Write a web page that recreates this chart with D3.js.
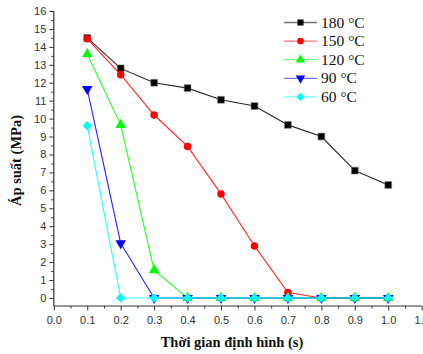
<!DOCTYPE html>
<html>
<head>
<meta charset="utf-8">
<script src="https://cdn.jsdelivr.net/npm/d3@7"></script>
<style>
  html, body { margin: 0; padding: 0; background: #fff; }
  svg { display: block; }
</style>
</head>
<body>
<svg id="chart" width="423" height="354"></svg>
<script>
// Forming time (s)
const times = [0.1, 0.2, 0.3, 0.4, 0.5, 0.6, 0.7, 0.8, 0.9, 1.0];

// Pressure (MPa) for each mould temperature
const p180 = [14.5, 12.8, 12.0, 11.7, 11.05, 10.7, 9.65, 9.0, 7.1, 6.3];
const p150 = [14.45, 12.45, 10.2, 8.45, 5.8, 2.9, 0.3, 0, 0, 0];
const p120 = [13.6, 9.65, 1.55, 0, 0, 0, 0, 0, 0, 0];
const p90  = [11.65, 3.05, 0, 0, 0, 0, 0, 0, 0, 0];
const p60  = [9.6, 0, 0, 0, 0, 0, 0, 0, 0, 0];

const seriesNames  = ["180 °C", "150 °C", "120 °C", "90 °C", "60 °C"];
const seriesValues = [p180, p150, p120, p90, p60];
const seriesColors = ["#000000", "#ff0000", "#00ff00", "#0000ff", "#00ffff"];
const seriesSymbols = ["square", "circle", "triUp", "triDown", "diamond"];
const symbolSizes = [46, 44, 48, 48, 44];

const xTicks = [0.0, 0.1, 0.2, 0.3, 0.4, 0.5, 0.6, 0.7, 0.8, 0.9, 1.0, 1.1];
const yTicks = d3.range(0, 17, 1);

const svg = d3.select("#chart");

const x = d3.scaleLinear().domain([0, 1.1]).range([53.8, 421.7]);
const y = d3.scaleLinear().domain([-0.45, 16]).range([306, 11]);

const axisColor = "#333";
const sans = "'Liberation Sans', Arial, sans-serif";
const serif = "'Liberation Serif', 'Times New Roman', serif";

// Left axis with minor ticks
const yMinor = d3.range(0, 16.01, 0.5).filter(v => v % 1 !== 0);
svg.append("g")
  .attr("transform", `translate(${x(0)},0)`)
  .call(d3.axisLeft(y).tickValues(yMinor).tickSize(2.5).tickFormat(""))
  .call(g => g.select(".domain").remove())
  .call(g => g.selectAll("line").attr("stroke", axisColor));

svg.append("g")
  .attr("transform", `translate(${x(0)},0)`)
  .call(d3.axisLeft(y).tickValues(yTicks).tickSize(4.5).tickPadding(3).tickFormat(d3.format("d")))
  .call(g => g.select(".domain").remove())
  .call(g => g.selectAll("line").attr("stroke", axisColor))
  .call(g => g.selectAll("text").attr("fill", axisColor).attr("font-family", sans).attr("font-size", "11px"));

// Bottom axis with minor ticks
const xMinor = d3.range(0.05, 1.1, 0.1);
svg.append("g")
  .attr("transform", `translate(0,${y(-0.45)})`)
  .call(d3.axisBottom(x).tickValues(xMinor).tickSize(2.5).tickFormat(""))
  .call(g => g.select(".domain").remove())
  .call(g => g.selectAll("line").attr("stroke", axisColor));

svg.append("g")
  .attr("transform", `translate(0,${y(-0.45)})`)
  .call(d3.axisBottom(x).tickValues(xTicks).tickSize(4.5).tickPadding(6).tickFormat(d3.format(".1f")))
  .call(g => g.select(".domain").remove())
  .call(g => g.selectAll("line").attr("stroke", axisColor))
  .call(g => g.selectAll("text").attr("fill", axisColor).attr("font-family", sans).attr("font-size", "11px"));

// Axis lines
svg.append("line")
  .attr("x1", x(0)).attr("x2", x(0)).attr("y1", y(16)).attr("y2", y(-0.45))
  .attr("stroke", axisColor).attr("stroke-width", 1.2);
svg.append("line")
  .attr("x1", x(0)).attr("x2", x(1.1)).attr("y1", y(-0.45)).attr("y2", y(-0.45))
  .attr("stroke", axisColor).attr("stroke-width", 1.2);

// Axis titles
svg.append("text")
  .attr("transform", `translate(21,${(y(16) + y(-0.45)) / 2 + 2}) rotate(-90)`)
  .attr("text-anchor", "middle")
  .attr("font-family", serif).attr("font-weight", "bold").attr("font-size", "14.5px")
  .attr("fill", "#111")
  .text("Áp suất (MPa)");

svg.append("text")
  .attr("x", 232).attr("y", 347)
  .attr("text-anchor", "middle")
  .attr("font-family", serif).attr("font-weight", "bold").attr("font-size", "14.5px")
  .attr("fill", "#111")
  .text("Thời gian định hình (s)");

// Marker shapes: square, circle, up/down triangles and a square diamond
function symbolPath(kind, size) {
  if (kind === "square" || kind === "diamond") return d3.symbol().type(d3.symbolSquare).size(size)();
  if (kind === "circle") return d3.symbol().type(d3.symbolCircle).size(size)();
  return d3.symbol().type(d3.symbolTriangle).size(size)();
}
function symbolTransform(kind, px, py) {
  if (kind === "triDown") return `translate(${px},${py}) rotate(180)`;
  if (kind === "diamond") return `translate(${px},${py}) rotate(45)`;
  return `translate(${px},${py})`;
}

// Lines and markers, drawn in series order
const line = d3.line().x(d => x(d[0])).y(d => y(d[1]));
seriesValues.forEach((vals, i) => {
  const pts = times.map((t, j) => [t, vals[j]]);
  const g = svg.append("g");
  g.append("path")
    .attr("d", line(pts))
    .attr("fill", "none")
    .attr("stroke", seriesColors[i])
    .attr("stroke-width", 1.1)
    .attr("stroke-opacity", 0.85);
  g.selectAll("path.m")
    .data(pts)
    .join("path")
    .attr("class", "m")
    .attr("d", symbolPath(seriesSymbols[i], symbolSizes[i]))
    .attr("transform", d => symbolTransform(seriesSymbols[i], x(d[0]), y(d[1])))
    .attr("fill", seriesColors[i])
    .attr("stroke", i === 0 ? "#777" : "none")
    .attr("stroke-width", 0.6);
});

// Legend
const legend = svg.append("g");
const legendY0 = 22.5, legendDy = 18.6;
seriesNames.forEach((name, i) => {
  const ly = legendY0 + i * legendDy;
  legend.append("line")
    .attr("x1", 284).attr("x2", 317).attr("y1", ly).attr("y2", ly)
    .attr("stroke", seriesColors[i]).attr("stroke-width", 1.3).attr("stroke-opacity", 0.55);
  legend.append("path")
    .attr("d", symbolPath(seriesSymbols[i], symbolSizes[i] * 0.8))
    .attr("transform", symbolTransform(seriesSymbols[i], 300.5, ly))
    .attr("fill", seriesColors[i]);
  legend.append("text")
    .attr("x", 321).attr("y", ly + 5)
    .attr("font-family", serif).attr("font-size", "15.5px")
    .attr("fill", "#111")
    .text(name);
});
</script>
</body>
</html>
